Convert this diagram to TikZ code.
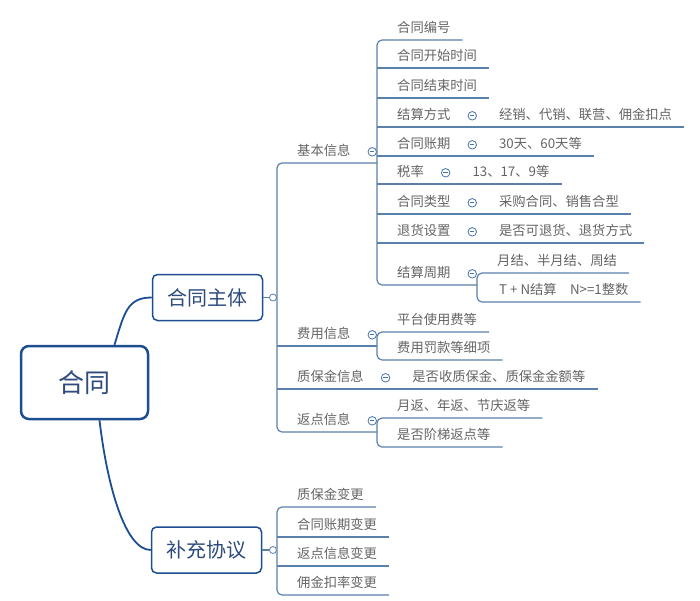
\documentclass[tikz,border=0pt]{standalone}
\usepackage{fontspec}
\newfontfamily\cjk{Noto Sans CJK SC}
\usetikzlibrary{positioning}
\definecolor{wireblue}{RGB}{92,128,172}
\definecolor{rootblue}{RGB}{28,78,145}
\definecolor{tagtext}{RGB}{100,100,100}
\definecolor{foldblue}{RGB}{70,115,175}
\definecolor{boxtext}{RGB}{45,75,125}

\begin{document}
\begin{tikzpicture}[x=1pt, y=-1pt, font=\cjk,
  leaf/.style={anchor=south west, inner xsep=0pt, inner ysep=4pt, text height=11pt, text depth=3pt, font=\cjk\fontsize{13.3}{15}\selectfont, text=tagtext},
  wire/.style={draw=wireblue, line width=1.2pt},
  trunk/.style={draw=rootblue, line width=1.8pt},
  fold/.style={circle, draw=foldblue, line width=.8pt, minimum size=8.5pt, inner sep=0pt, fill=white,
    path picture={\draw[foldblue, line width=.7pt] ([xshift=-2.2pt]path picture bounding box.center) -- ([xshift=2.2pt]path picture bounding box.center);}},
  knob/.style={circle, draw=wireblue, line width=.8pt, minimum size=7pt, inner sep=0pt, fill=white},
  topic/.style={draw=rootblue, line width=1.5pt, rounded corners=5pt, fill=white, text=boxtext, minimum width=110pt, minimum height=46pt, font=\cjk\fontsize{20}{22}\selectfont}
]
  \useasboundingbox (0,0) rectangle (700,600);

  % main topics
  \node[draw=rootblue, line width=2.5pt, rounded corners=8pt, fill=white, text=boxtext, minimum width=127pt, minimum height=73pt, font=\cjk\fontsize{26}{28}\selectfont] (hetong) at (84.5,382.5) {合同};
  \node[topic] (zhuti) at (207.5,297.5) {合同主体};
  \node[topic] (buchong) at (206.5,550) {补充协议};
  \draw[trunk] ([xshift=30pt]hetong.north) .. controls +(10,-33) and +(-24,0) .. (zhuti.west);
  \draw[trunk] ([xshift=15pt]hetong.south) .. controls +(8,68) and +(-25,0) .. (buchong.west);

  % 合同主体
  \draw[wire, rounded corners=5pt] (377,163) -- (277,163) -- (277,432) -- (377,432);
  \draw[wire] (zhuti) -- (273,297.5);
  \node[knob] (zhuti-k) at (273,297.5) {};
  \node[leaf] (jiben) at (297,163) {基本信息};
  \node[fold, right=17pt of jiben] (jiben-f) {};
  \node[leaf] (feiyong) at (297,346) {费用信息};
  \node[fold, right=17pt of feiyong] (feiyong-f) {};
  \node[leaf] (zhibao) at (297,389) {质保金信息};
  \node[fold, right=17pt of zhibao] (zhibao-f) {};
  \node[leaf, right=22pt of zhibao-f] (zhibao-c) {是否收质保金、质保金金额等};
  \node[leaf] (fandian) at (297,432) {返点信息};
  \node[fold, right=17pt of fandian] (fandian-f) {};
  \draw[wire] (277,346) -- (377,346);
  \draw[wire] (277,389) -- ([xshift=12pt]zhibao-c.south east);

  % 基本信息
  \node[leaf] (bianhao) at (397,40) {合同编号};
  \node[leaf] (jszq) at (397,285) {结算周期};
  \node[fold, right=17pt of jszq] (jszq-f) {};
  \draw[wire, rounded corners=5pt] ([xshift=12pt]bianhao.south east) -- (377,40) -- (377,285) -- (477,285);
  \foreach \n/\y/\t in {kaishi/68/合同开始时间, jieshu/98/合同结束时间} {
    \node[leaf] (\n) at (397,\y) {\t};
    \draw[wire] (377,\y) -- ([xshift=12pt]\n.south east);
  }
  \foreach \n/\y/\t/\c in {jsfs/127/结算方式/经销、代销、联营、佣金扣点, zhangqi/156/合同账期/30天、60天等, shuilv/184/税率/13、17、9等, leixing/214/合同类型/采购合同、销售合型, tuihuo/243/退货设置/是否可退货、退货方式} {
    \node[leaf] (\n) at (397,\y) {\t};
    \node[fold, right=17pt of \n] (\n-f) {};
    \node[leaf, right=22pt of \n-f] (\n-c) {\c};
    \draw[wire] (377,\y) -- ([xshift=12pt]\n-c.south east);
  }

  % 结算周期
  \node[leaf] (jszq-a) at (497,273) {月结、半月结、周结};
  \node[leaf] (jszq-b) at (499,302) {T + N结算\quad N>=1整数};
  \draw[wire, rounded corners=5pt] ([xshift=12pt]jszq-a.south east) -- (477,273) -- (477,302) -- ([xshift=12pt]jszq-b.south east);

  % 费用信息 / 返点信息
  \node[leaf] (feiyong-a) at (397,332) {平台使用费等};
  \node[leaf] (feiyong-b) at (397,360) {费用罚款等细项};
  \draw[wire, rounded corners=5pt] ([xshift=12pt]feiyong-a.south east) -- (377,332) -- (377,360) -- ([xshift=12pt]feiyong-b.south east);
  \node[leaf] (fandian-a) at (397,418) {月返、年返、节庆返等};
  \node[leaf] (fandian-b) at (397,447) {是否阶梯返点等};
  \draw[wire, rounded corners=5pt] ([xshift=12pt]fandian-a.south east) -- (377,418) -- (377,447) -- ([xshift=12pt]fandian-b.south east);

  % 补充协议
  \node[leaf] (zbbg) at (297,507) {质保金变更};
  \node[leaf] (yjbg) at (297,595) {佣金扣率变更};
  \draw[wire, rounded corners=5pt] ([xshift=12pt]zbbg.south east) -- (277,507) -- (277,595) -- ([xshift=12pt]yjbg.south east);
  \foreach \n/\y/\t in {zqbg/537/合同账期变更, fdbg/566/返点信息变更} {
    \node[leaf] (\n) at (297,\y) {\t};
    \draw[wire] (277,\y) -- ([xshift=12pt]\n.south east);
  }
  \draw[wire] (buchong) -- (273,550);
  \node[knob] (buchong-k) at (273,550) {};
\end{tikzpicture}
\end{document}
